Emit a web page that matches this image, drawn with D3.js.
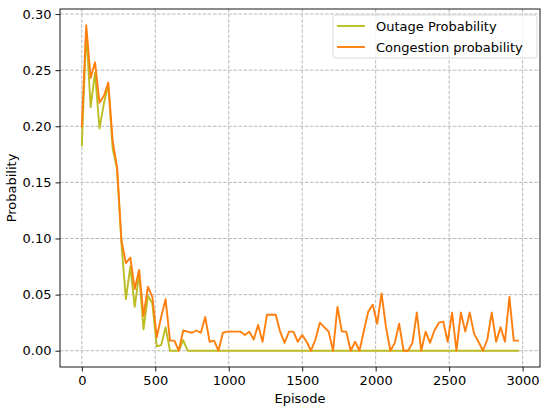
<!DOCTYPE html>
<html>
<head>
<meta charset="utf-8">
<script src="https://cdn.jsdelivr.net/npm/d3@7"></script>
<style>
  body { margin: 0; background: #fff; }
  text { font-family: "DejaVu Sans", sans-serif; fill: #000; }
</style>
</head>
<body>
<script>
// episodes are sampled every 30 steps
var episodes = d3.range(0, 3000, 30);

var outage = [
  0.183, 0.285, 0.217, 0.248, 0.198, 0.220, 0.237, 0.180, 0.162, 0.095,
  0.046, 0.075, 0.039, 0.069, 0.019, 0.049, 0.042, 0.004, 0.005, 0.021,
  0, 0, 0, 0.0095, 0, 0, 0, 0, 0, 0,
  0, 0, 0, 0, 0, 0, 0, 0, 0, 0,
  0, 0, 0, 0, 0, 0, 0, 0, 0, 0,
  0, 0, 0, 0, 0, 0, 0, 0, 0, 0,
  0, 0, 0, 0, 0, 0, 0, 0, 0, 0,
  0, 0, 0, 0, 0, 0, 0, 0, 0, 0,
  0, 0, 0, 0, 0, 0, 0, 0, 0, 0,
  0, 0, 0, 0, 0, 0, 0, 0, 0, 0
];

var congestion = [
  0.200, 0.290, 0.243, 0.257, 0.221, 0.227, 0.239, 0.187, 0.163, 0.098,
  0.078, 0.083, 0.055, 0.072, 0.031, 0.057, 0.048, 0.012, 0.030, 0.046,
  0.009, 0.009, 0, 0.018, 0.017, 0.016, 0.018, 0.016, 0.030, 0.008,
  0.009, 0, 0.016, 0.017, 0.017, 0.017, 0.017, 0.014, 0.017, 0.010,
  0.023, 0.008, 0.032, 0.032, 0.032, 0.017, 0.007, 0.017, 0.017, 0.008,
  0.014, 0.008, 0, 0.010, 0.025, 0.021, 0.017, 0, 0.039, 0.017,
  0.017, 0, 0.008, 0, 0.018, 0.035, 0.041, 0.024, 0.051, 0.021,
  0, 0.007, 0.024, 0, 0, 0.007, 0.034, 0, 0.017, 0.007,
  0.018, 0.025, 0.026, 0.008, 0.034, 0, 0.034, 0.017, 0.034, 0.015,
  0.008, 0, 0.010, 0.034, 0.008, 0.021, 0.008, 0.048, 0.009, 0.009
];

var xTicks = [0, 500, 1000, 1500, 2000, 2500, 3000];
var yTicks = [0, 0.05, 0.10, 0.15, 0.20, 0.25, 0.30];

var series = [
  {name: "Outage Probability", color: "#bcbd22", values: outage},
  {name: "Congestion probability", color: "#ff7f0e", values: congestion}
];

var width = 550,
    height = 412,
    margin = {top: 9, right: 10, bottom: 45, left: 60},
    fontSize = "13px";

var svg = d3.select("body").append("svg")
    .attr("width", width)
    .attr("height", height);

var x = d3.scaleLinear()
    .domain([-148.5, 3118.5])
    .range([margin.left, width - margin.right]);

var y = d3.scaleLinear()
    .domain([-0.0145, 0.3045])
    .range([height - margin.bottom, margin.top]);

// grid
var grid = svg.append("g").attr("class", "grid");
grid.selectAll(".gx")
    .data(xTicks)
    .enter().append("line")
    .attr("x1", function(d) { return x(d); })
    .attr("x2", function(d) { return x(d); })
    .attr("y1", margin.top)
    .attr("y2", height - margin.bottom)
    .attr("stroke", "#b0b0b0")
    .attr("stroke-width", 0.9)
    .attr("stroke-dasharray", "3.5,1.6");
grid.selectAll(".gy")
    .data(yTicks)
    .enter().append("line")
    .attr("x1", margin.left)
    .attr("x2", width - margin.right)
    .attr("y1", function(d) { return y(d); })
    .attr("y2", function(d) { return y(d); })
    .attr("stroke", "#b0b0b0")
    .attr("stroke-width", 0.9)
    .attr("stroke-dasharray", "3.5,1.6");

// lines
var line = d3.line()
    .x(function(d, i) { return x(episodes[i]); })
    .y(function(d) { return y(d); });

svg.append("g")
    .selectAll("path")
    .data(series)
    .enter().append("path")
    .attr("d", function(d) { return line(d.values); })
    .attr("fill", "none")
    .attr("stroke", function(d) { return d.color; })
    .attr("stroke-width", 1.9)
    .attr("stroke-linejoin", "round")
    .attr("stroke-linecap", "square");

// axes
var xAxis = svg.append("g")
    .attr("transform", "translate(0," + (height - margin.bottom) + ")")
    .call(d3.axisBottom(x).tickValues(xTicks).tickFormat(d3.format("d")).tickSizeOuter(0).tickSize(4.5).tickPadding(4));

var yAxis = svg.append("g")
    .attr("transform", "translate(" + margin.left + ",0)")
    .call(d3.axisLeft(y).tickValues(yTicks).tickFormat(d3.format(".2f")).tickSizeOuter(0).tickSize(4.5).tickPadding(4));

[xAxis, yAxis].forEach(function(a) {
    a.select(".domain").remove();
    a.selectAll("line").attr("stroke", "#000").attr("stroke-width", 0.9);
    a.selectAll("text")
        .style("font-family", "DejaVu Sans, sans-serif")
        .style("font-size", fontSize)
        .attr("fill", "#000");
});

// frame
svg.append("rect")
    .attr("x", margin.left)
    .attr("y", margin.top)
    .attr("width", width - margin.left - margin.right)
    .attr("height", height - margin.top - margin.bottom)
    .attr("fill", "none")
    .attr("stroke", "#000")
    .attr("stroke-width", 0.9);

// axis labels
svg.append("text")
    .attr("x", (margin.left + width - margin.right) / 2)
    .attr("y", 403)
    .attr("text-anchor", "middle")
    .style("font-size", fontSize)
    .text("Episode");

svg.append("text")
    .attr("transform", "translate(16," + ((margin.top + height - margin.bottom) / 2) + ") rotate(-90)")
    .attr("text-anchor", "middle")
    .style("font-size", fontSize)
    .text("Probability");

// legend
var legend = svg.append("g").attr("transform", "translate(333,15)");
legend.append("rect")
    .attr("width", 204)
    .attr("height", 43)
    .attr("rx", 3)
    .attr("fill", "#fff")
    .attr("fill-opacity", 0.8)
    .attr("stroke", "#d5d5d5")
    .attr("stroke-width", 0.9);

var item = legend.selectAll(".item")
    .data(series)
    .enter().append("g")
    .attr("transform", function(d, i) { return "translate(0," + (11 + i * 21) + ")"; });

item.append("line")
    .attr("x1", 4)
    .attr("x2", 32)
    .attr("stroke", function(d) { return d.color; })
    .attr("stroke-width", 1.9);

item.append("text")
    .attr("x", 43)
    .attr("dy", "0.35em")
    .style("font-size", fontSize)
    .text(function(d) { return d.name; });
</script>
</body>
</html>
